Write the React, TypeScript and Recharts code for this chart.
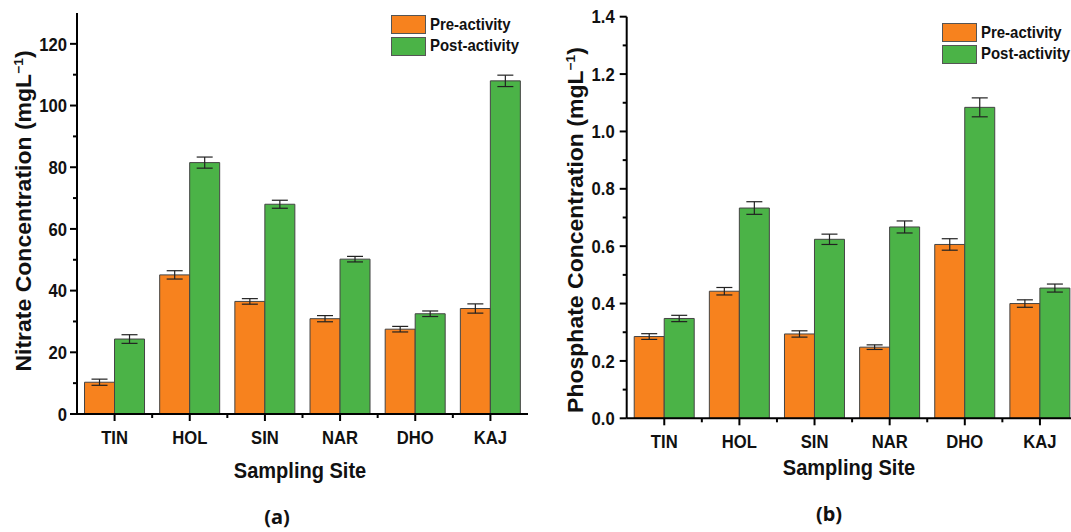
import React from 'react';
import { BarChart, Bar, XAxis, YAxis, ErrorBar, Legend } from 'recharts';

const sites = ['TIN', 'HOL', 'SIN', 'NAR', 'DHO', 'KAJ'];
const seriesNames = ['Pre-activity', 'Post-activity'];

const nitratePre = [10.3, 45.1, 36.5, 30.9, 27.5, 34.2];
const nitratePreErr = [1.0, 1.35, 0.9, 1.0, 0.9, 1.5];
const nitratePost = [24.3, 81.5, 68.0, 50.2, 32.5, 108.0];
const nitratePostErr = [1.4, 1.8, 1.3, 0.9, 0.9, 1.85];

const phosphatePre = [0.285, 0.443, 0.294, 0.248, 0.606, 0.4];
const phosphatePreErr = [0.01, 0.013, 0.011, 0.008, 0.02, 0.013];
const phosphatePost = [0.348, 0.733, 0.624, 0.667, 1.084, 0.454];
const phosphatePostErr = [0.011, 0.022, 0.018, 0.021, 0.033, 0.014];

const nitrateTicks = [0, 10, 20, 30, 40, 50, 60, 70, 80, 90, 100, 110, 120];
const phosphateTicks = [0, 0.1, 0.2, 0.3, 0.4, 0.5, 0.6, 0.7, 0.8, 0.9, 1.0, 1.1, 1.2, 1.3, 1.4];

const PRE = '#F7821E';
const POST = '#4BB347';
const FONT = '"Liberation Sans", Arial, Helvetica, sans-serif';
const SQ = 0.9;

const nitrateData = sites.map((s, i) => ({
  site: s,
  pre: nitratePre[i],
  preErr: nitratePreErr[i],
  post: nitratePost[i],
  postErr: nitratePostErr[i],
}));
const phosphateData = sites.map((s, i) => ({
  site: s,
  pre: phosphatePre[i],
  preErr: phosphatePreErr[i],
  post: phosphatePost[i],
  postErr: phosphatePostErr[i],
}));

type PanelProps = {
  data: any[];
  width: number;
  height: number;
  margin: { top: number; right: number; bottom: number; left: number };
  yWidth: number;
  domain: [number, number];
  ticks: number[];
  isMajor: (v: number) => boolean;
  fmt: (v: number) => string;
  labelGap: number;
  legendPos: { left: number; top: number };
};

const LegendBox = (props: any) => {
  const items = [...(props.payload || [])].sort(
    (a: any, b: any) => seriesNames.indexOf(a.value) - seriesNames.indexOf(b.value)
  );
  return (
    <div style={{ fontFamily: FONT }}>
      {items.map((it: any, i: number) => (
        <div key={i} style={{ display: 'flex', alignItems: 'center', height: 21.5 }}>
          <div
            style={{
              width: 35,
              height: 19,
              background: it.color,
              border: '1px solid #555',
              boxSizing: 'border-box',
              flex: 'none',
            }}
          />
          <span
            style={{
              marginLeft: 4,
              fontSize: 17,
              fontWeight: 700,
              color: '#111',
              whiteSpace: 'nowrap',
              display: 'inline-block',
              transform: 'scaleX(0.88)',
              transformOrigin: 'left center',
            }}
          >
            {it.value}
          </span>
        </div>
      ))}
    </div>
  );
};

const Panel = (p: PanelProps) => {
  const plotW = p.width - p.margin.left - p.margin.right - p.yWidth;
  const band = plotW / sites.length;

  const YTick = (t: any) => {
    const v = t.payload.value;
    const major = p.isMajor(v);
    return (
      <g>
        <line x1={t.x - (major ? 7 : 4)} x2={t.x} y1={t.y} y2={t.y} stroke="#000" strokeWidth={2} />
        {major && (
          <text
            transform={`translate(${t.x - p.labelGap} ${t.y}) scale(${SQ} 1)`}
            x={0}
            y={0}
            dy="0.36em"
            textAnchor="end"
            fontSize={18.5}
            fontWeight={700}
            fontFamily={FONT}
            fill="#111"
          >
            {p.fmt(v)}
          </text>
        )}
      </g>
    );
  };

  const XTick = (t: any) => {
    return (
      <g>
        <line x1={t.x} x2={t.x} y1={t.y} y2={t.y + 7} stroke="#000" strokeWidth={2} />
        {t.index < sites.length - 1 && (
          <line x1={t.x + band / 2} x2={t.x + band / 2} y1={t.y} y2={t.y + 4} stroke="#000" strokeWidth={2} />
        )}
        <text
          transform={`translate(${t.x} ${t.y + 23}) scale(${SQ} 1)`}
          x={0}
          y={0}
          dy="0.36em"
          textAnchor="middle"
          fontSize={18.5}
          fontWeight={700}
          fontFamily={FONT}
          fill="#111"
        >
          {t.payload.value}
        </text>
      </g>
    );
  };

  return (
    <BarChart
      width={p.width}
      height={p.height}
      data={p.data}
      margin={p.margin}
      barGap={0}
      barCategoryGap="10%"
    >
      <XAxis
        dataKey="site"
        type="category"
        height={30}
        interval={0}
        tickSize={0}
        tickMargin={0}
        tickLine={false}
        axisLine={{ stroke: '#000', strokeWidth: 2 }}
        tick={XTick}
      />
      <XAxis
        xAxisId="top"
        dataKey="site"
        orientation="top"
        height={0}
        tick={false}
        tickLine={false}
        axisLine={{ stroke: '#000', strokeWidth: 2 }}
      />
      <YAxis
        type="number"
        domain={p.domain}
        ticks={p.ticks}
        width={p.yWidth}
        interval={0}
        tickSize={0}
        tickMargin={0}
        tickLine={false}
        axisLine={{ stroke: '#000', strokeWidth: 2 }}
        tick={YTick}
        allowDataOverflow
      />
      <YAxis
        yAxisId="right"
        orientation="right"
        type="number"
        domain={p.domain}
        width={0}
        tick={false}
        tickLine={false}
        axisLine={{ stroke: '#000', strokeWidth: 2 }}
      />
      <Legend
        layout="vertical"
        align="center"
        verticalAlign="middle"
        wrapperStyle={{ left: p.legendPos.left, top: p.legendPos.top, width: 'auto', height: 'auto' }}
        content={LegendBox}
      />
      <Bar dataKey="pre" name={seriesNames[0]} fill={PRE} stroke="#444" strokeWidth={1} isAnimationActive={false}>
        <ErrorBar dataKey="preErr" width={8} stroke="#222" strokeWidth={1.2} direction="y" />
      </Bar>
      <Bar dataKey="post" name={seriesNames[1]} fill={POST} stroke="#444" strokeWidth={1} isAnimationActive={false}>
        <ErrorBar dataKey="postErr" width={8} stroke="#222" strokeWidth={1.2} direction="y" />
      </Bar>
    </BarChart>
  );
};

const textBase: React.CSSProperties = {
  position: 'absolute',
  fontFamily: FONT,
  fontWeight: 700,
  color: '#111',
  whiteSpace: 'nowrap',
  lineHeight: 1.15,
};

export default function App() {
  return (
    <div
      style={{
        position: 'fixed',
        left: 0,
        top: 0,
        width: 1071,
        height: 532,
        overflow: 'hidden',
        background: '#fff',
      }}
    >
      <div style={{ position: 'absolute', left: 0, top: 0 }}>
        <Panel
          data={nitrateData}
          width={540}
          height={532}
          margin={{ top: 13, right: 12, bottom: 88, left: 0 }}
          yWidth={77}
          domain={[0, 130]}
          ticks={nitrateTicks}
          isMajor={(v) => Math.round(v) % 20 === 0}
          fmt={(v) => String(v)}
          labelGap={10}
          legendPos={{ left: 390.5, top: 13.8 }}
        />
      </div>
      <div style={{ position: 'absolute', left: 540, top: 0 }}>
        <Panel
          data={phosphateData}
          width={545}
          height={532}
          margin={{ top: 16.7, right: 7.5, bottom: 83.7, left: 0 }}
          yWidth={86.7}
          domain={[0, 1.4]}
          ticks={phosphateTicks}
          isMajor={(v) => Math.round(v * 10) % 2 === 0}
          fmt={(v) => v.toFixed(1)}
          labelGap={12}
          legendPos={{ left: 401.7, top: 22.1 }}
        />
      </div>

      <div
        style={{
          ...textBase,
          left: 24,
          top: 211,
          fontSize: 23,
          transform: 'translate(-50%, -50%) scaleX(0.92) rotate(-90deg)',
        }}
      >
        Nitrate Concentration (mgL<sup style={{ fontSize: '0.6em' }}>−1</sup>)
      </div>
      <div style={{ ...textBase, left: 300, top: 471, fontSize: 22, transform: 'translate(-50%, -50%) scaleX(0.91)' }}>
        Sampling Site
      </div>
      <div
        style={{
          ...textBase,
          left: 277,
          top: 516,
          fontSize: 20,
          fontFamily: '"Noto Sans", sans-serif',
          transform: 'translate(-50%, -50%)',
        }}
      >
        (a)
      </div>

      <div
        style={{
          ...textBase,
          left: 576,
          top: 230,
          fontSize: 23,
          transform: 'translate(-50%, -50%) scaleX(0.92) rotate(-90deg)',
        }}
      >
        Phosphate Concentration (mgL<sup style={{ fontSize: '0.6em' }}>−1</sup>)
      </div>
      <div style={{ ...textBase, left: 849, top: 468, fontSize: 22, transform: 'translate(-50%, -50%) scaleX(0.91)' }}>
        Sampling Site
      </div>
      <div
        style={{
          ...textBase,
          left: 829,
          top: 513,
          fontSize: 20,
          fontFamily: '"Noto Sans", sans-serif',
          transform: 'translate(-50%, -50%)',
        }}
      >
        (b)
      </div>
    </div>
  );
}
